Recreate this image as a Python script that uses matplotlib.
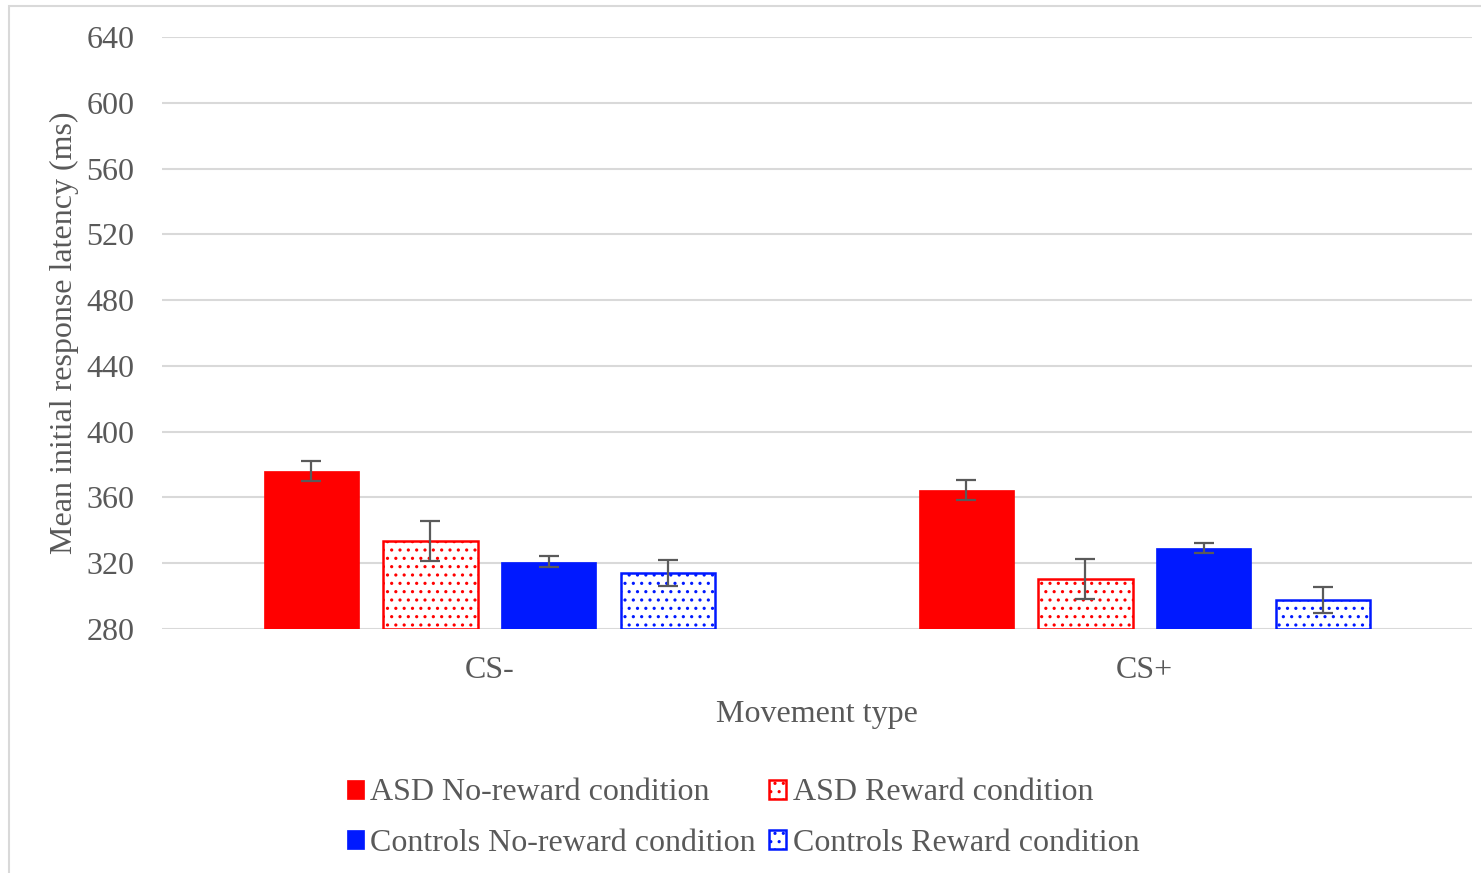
import matplotlib
matplotlib.use("Agg")
import matplotlib.pyplot as plt
import numpy as np
from matplotlib.patches import Rectangle

categories = ["CS-", "CS+"]
series_names = ["ASD No-reward condition", "ASD Reward condition",
                "Controls No-reward condition", "Controls Reward condition"]
asd_noreward = [376, 364.5]
asd_reward = [333.5, 310.5]
ctrl_noreward = [321, 329]
ctrl_reward = [314, 297.5]
asd_noreward_err = [6, 6]
asd_reward_err = [12, 12]
ctrl_noreward_err = [3.5, 3]
ctrl_reward_err = [8, 8]
yticks = [280, 320, 360, 400, 440, 480, 520, 560, 600, 640]

values = [asd_noreward, asd_reward, ctrl_noreward, ctrl_reward]
errors = [asd_noreward_err, asd_reward_err, ctrl_noreward_err, ctrl_reward_err]
colors = ["#ff0000", "#ff0000", "#0019ff", "#0019ff"]
hatched = [False, True, False, True]
offsets = [-0.2725, -0.0908, 0.0908, 0.2725]

plt.rcParams['font.family'] = ['Liberation Serif', 'DejaVu Serif']
plt.rcParams['hatch.linewidth'] = 1.1
txt = "#595959"
fs = 23

fig = plt.figure(figsize=(14.81, 8.73), dpi=100)
ax = fig.add_axes([162/1481, 1 - 629/873, 1310/1481, 592/873])

x = np.arange(len(categories))
handles = []
for vals, errs, c, h, off, name in zip(values, errors, colors, hatched, offsets, series_names):
    if h:
        b = ax.bar(x + off, [v - 280 for v in vals], bottom=280, width=0.145,
                   facecolor="white", edgecolor=c, hatch="..", linewidth=1.8,
                   label=name, zorder=3)
    else:
        b = ax.bar(x + off, [v - 280 for v in vals], bottom=280, width=0.145,
                   facecolor=c, edgecolor=c, linewidth=0.5, label=name, zorder=3)
    handles.append(b)
    ax.errorbar(x + off, vals, yerr=errs, fmt="none", ecolor="#5a5a5a",
                elinewidth=1.6, capsize=7, capthick=1.6, zorder=4)

ax.set_xlim(-0.5, 1.5)
ax.set_ylim(280, 640)
ax.set_yticks(yticks)
ax.set_xticks(x)
ax.set_xticklabels(categories)
ax.yaxis.grid(True, color="#d9d9d9", linewidth=1.5, zorder=0)
ax.set_axisbelow(True)
for s in ax.spines.values():
    s.set_visible(False)
ax.tick_params(axis="both", length=0, labelsize=fs, labelcolor=txt)
ax.tick_params(axis="y", pad=20)
ax.tick_params(axis="x", pad=19.5)
ax.set_ylabel("Mean initial response latency (ms)", fontsize=fs, color=txt, labelpad=5)
ax.set_xlabel("Movement type", fontsize=fs, color=txt, labelpad=11)

order = [0, 2, 1, 3]
leg = fig.legend([handles[i] for i in order], [series_names[i] for i in order],
                 loc="center", bbox_to_anchor=(743/1481, 1 - 818/873), ncol=2,
                 frameon=False, fontsize=fs, handlelength=0.55, handleheight=0.55,
                 handletextpad=0.2, columnspacing=0.4, labelspacing=0.66)
for t in leg.get_texts():
    t.set_color(txt)

fig.patches.append(Rectangle((9/1481, -0.01), 1.0, 1 - 6/873 + 0.01,
                             transform=fig.transFigure, fill=False,
                             edgecolor="#d9d9d9", linewidth=1.5))

fig.savefig("out.png", dpi=100)
